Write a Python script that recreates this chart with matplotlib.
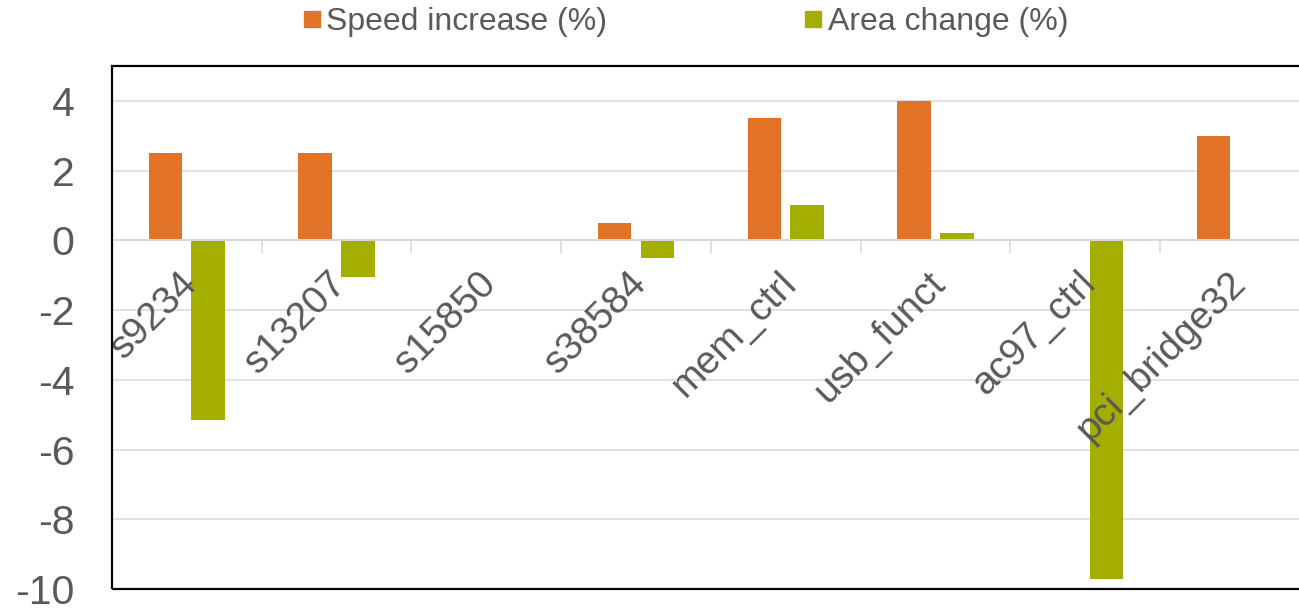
import numpy as np
import matplotlib.pyplot as plt
import matplotlib.transforms as mtransforms
from matplotlib.lines import Line2D
from matplotlib.patches import Rectangle

plt.rcParams['font.family'] = ['Liberation Sans', 'DejaVu Sans']

# datos
circuits = ['s9234', 's13207', 's15850', 's38584', 'mem_ctrl', 'usb_funct', 'ac97_ctrl', 'pci_bridge32']
speed_increase = [2.5, 2.5, 0.0, 0.5, 3.5, 4.0, 0.0, 3.0]
area_change = [-5.15, -1.05, 0.0, -0.5, 1.0, 0.2, -9.7, 0.03]
series_names = ['Speed increase (%)', 'Area change (%)']
y_ticks = [-10, -8, -6, -4, -2, 0, 2, 4]

ORANGE = '#E27225'
GREEN = '#A4AE00'
GRAY_TXT = '#595959'
GRID = '#D9D9D9'

fig = plt.figure(figsize=(12.99, 6.09), dpi=100)
ax = fig.add_axes([0.0862, 0.0329, 0.9222, 0.8587])

# lineas de rejilla por debajo de las barras
for v in y_ticks:
    ax.axhline(v, color=GRID, linewidth=1.1, zorder=1)

x = np.arange(len(circuits))
w = 0.224
off = 0.143
ax.bar(x - off, speed_increase, w, color=ORANGE, zorder=2)
ax.bar(x + off, area_change, w, color=GREEN, zorder=2)

ax.set_xlim(-0.5, len(circuits) - 0.5)
ax.set_ylim(-10, 5)
# ejes (y etiquetas) por encima de las barras
ax.set_axisbelow(False)

# eje y
ax.set_yticks(y_ticks)
ax.set_yticklabels([str(v) for v in y_ticks])
ax.tick_params(axis='y', length=0, pad=27, labelsize=29.5, labelcolor=GRAY_TXT)

# eje x sobre la linea de cero
ax.spines['bottom'].set_position(('data', 0))
ax.spines['bottom'].set_color(GRID)
ax.spines['bottom'].set_linewidth(1.4)
for side in ['top', 'left', 'right']:
    ax.spines[side].set_visible(False)

bounds = np.arange(len(circuits) + 1) - 0.5
ax.set_xticks(bounds)
ax.set_xticklabels([''] * len(bounds))
ax.set_xticks(x, circuits, minor=True, rotation=45, ha='right',
              rotation_mode='anchor')
ax.tick_params(axis='x', which='major', length=9, width=1.1, color=GRID)
ax.tick_params(axis='x', which='minor', length=0, pad=18, labelsize=28,
               labelcolor=GRAY_TXT)

# desplazar un poco las etiquetas a la izquierda
shift = mtransforms.ScaledTranslation(-0.08, 0, fig.dpi_scale_trans)
for lbl in ax.get_xticklabels(minor=True):
    lbl.set_transform(lbl.get_transform() + shift)

# marco negro
ax.add_patch(Rectangle((0, 0), 1, 1, transform=ax.transAxes, fill=False,
                       edgecolor='black', linewidth=1.6, clip_on=False, zorder=5))

handles = [Line2D([], [], marker='s', linestyle='none', markersize=12,
                  color=ORANGE),
           Line2D([], [], marker='s', linestyle='none', markersize=12,
                  color=GREEN)]
fig.legend(handles, series_names, loc='center', bbox_to_anchor=(0.528, 0.964),
           ncol=2, frameon=False, fontsize=23, labelcolor=GRAY_TXT,
           handlelength=0.5, handletextpad=0.2, columnspacing=6.2,
           borderpad=0.1)

fig.savefig('out.png', dpi=100)
